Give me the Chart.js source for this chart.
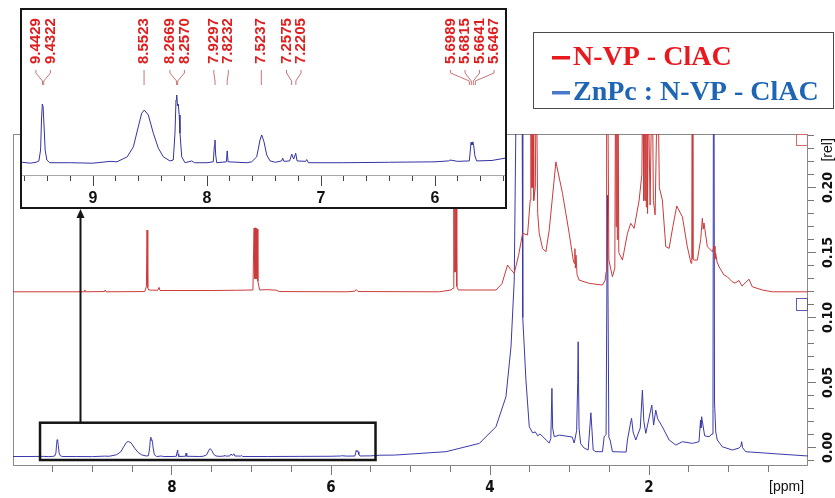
<!DOCTYPE html>
<html>
<head>
<meta charset="utf-8">
<title>1H NMR - N-VP - ClAC / ZnPc : N-VP - ClAC</title>
<script src="https://cdn.jsdelivr.net/npm/chart.js@4.4.1/dist/chart.umd.min.js"></script>
<style>
  body { margin: 0; background: #fff; }
  #wrap { position: relative; width: 835px; height: 498px; overflow: hidden; background: #fff; }
  #main { position: absolute; left: 0; top: 0; }
  #insetBox { position: absolute; left: 20px; top: 8px; width: 487px; height: 201px;
              border: 2px solid #161616; box-sizing: border-box; background: #fff; }
  #inset { display: block; }
</style>
</head>
<body>
<div id="wrap">
  <canvas id="main" width="835" height="498"></canvas>
  <div id="insetBox"><canvas id="inset" width="483" height="197"></canvas></div>
</div>
<script>
// chemical shift (ppm) and relative intensity
const redShift = [10.00, 9.10, 9.097, 9.09, 8.85, 8.84, 8.83, 8.343, 8.322, 8.314, 8.305, 8.293, 8.18, 8.163, 8.15,
  7.50, 7.20, 6.982, 6.972, 6.967, 6.960, 6.955, 6.948, 6.942, 6.935, 6.929, 6.920, 6.898, 6.80, 6.688, 6.65,
  5.80, 5.70, 5.683, 5.66, 4.637, 4.490, 4.465, 4.455, 4.448, 4.441, 4.434, 4.427, 4.418, 4.398, 4.285,
  3.925, 3.85, 3.779, 3.74, 3.695, 3.64, 3.590, 3.528, 3.494, 3.486, 3.479, 3.472, 3.465, 3.458, 3.450, 3.43,
  3.418, 3.400, 3.381, 3.339, 3.297, 3.255, 3.171, 3.088, 3.004, 2.955, 2.941, 2.932, 2.926, 2.918, 2.905,
  2.878, 2.752, 2.585, 2.551, 2.540, 2.533, 2.520, 2.505, 2.460, 2.430, 2.420, 2.413, 2.405, 2.398, 2.390,
  2.380, 2.334, 2.271, 2.229, 2.187, 2.124, 2.090, 2.075, 2.066, 2.058, 2.050, 2.042, 2.034, 2.026, 2.018,
  2.010, 1.986, 1.960, 1.945, 1.923, 1.890, 1.870, 1.832, 1.789, 1.747, 1.700, 1.651, 1.580, 1.518, 1.471,
  1.462, 1.456, 1.448, 1.433, 1.392, 1.350, 1.329, 1.318, 1.308, 1.266, 1.203, 1.180, 1.170, 1.161, 1.144,
  1.119, 1.056, 1.015, 0.952, 0.918, 0.868, 0.830, 0.742, 0.701, 0.575, 0.450, 0.00];
const redRel = [0.1198, 0.1198, 0.1212, 0.1198, 0.1200, 0.1212, 0.1198, 0.1200, 0.1240, 0.1673, 0.1230, 0.1212, 0.1210, 0.1232, 0.1208,
  0.1208, 0.1210, 0.1212, 0.1560, 0.1688, 0.1300, 0.1690, 0.1300, 0.1685, 0.1300, 0.1680, 0.1280, 0.1212, 0.1215, 0.1210, 0.1200,
  0.1198, 0.1203, 0.1215, 0.1200, 0.1198, 0.1212, 0.1225, 0.2050, 0.1350, 0.2100, 0.1350, 0.2080, 0.1240, 0.1212, 0.1212,
  0.1212, 0.1260, 0.1404, 0.1370, 0.1340, 0.1480, 0.1648, 0.1635, 0.1904, 0.30, 0.20, 0.30, 0.20, 0.30, 0.19, 0.2000,
  0.30, 0.1800, 0.1648, 0.1532, 0.1506, 0.1673, 0.2198, 0.1955, 0.1648, 0.1450, 0.1417, 0.1530, 0.1380, 0.1480, 0.1330,
  0.1288, 0.1263, 0.1250, 0.1288, 0.1350, 0.35, 0.30, 0.1442, 0.1314, 0.1380, 0.30, 0.1700, 0.30, 0.1600, 0.28,
  0.1500, 0.1442, 0.1648, 0.1725, 0.1686, 0.1904, 0.2100, 0.30, 0.19, 0.30, 0.19, 0.30, 0.185, 0.30, 0.18,
  0.28, 0.1865, 0.30, 0.1900, 0.1790, 0.30, 0.2000, 0.1904, 0.1545, 0.1532, 0.1700, 0.1858, 0.1775, 0.1545, 0.1417,
  0.1450, 0.35, 0.1450, 0.1442, 0.1442, 0.1600, 0.1763, 0.1680, 0.1727, 0.1545, 0.1506, 0.1550, 0.1450, 0.1494, 0.1427,
  0.1391, 0.1327, 0.1314, 0.1275, 0.1265, 0.1285, 0.1242, 0.1295, 0.1237, 0.1212, 0.1198, 0.1198];

const blueShift = [10.00, 9.80, 9.62, 9.55, 9.50, 9.475, 9.46, 9.452, 9.445, 9.438, 9.430, 9.42, 9.405, 9.38, 9.20, 9.00,
  8.85, 8.79, 8.70, 8.646, 8.603, 8.573, 8.550, 8.515, 8.471, 8.427, 8.383, 8.325, 8.296, 8.281, 8.272, 8.266,
  8.259, 8.252, 8.244, 8.237, 8.222, 8.193, 8.134, 8.11, 8.00, 7.945, 7.935, 7.930, 7.924, 7.915, 7.830, 7.823,
  7.815, 7.65, 7.608, 7.564, 7.535, 7.520, 7.500, 7.476, 7.447, 7.40, 7.345, 7.336, 7.325, 7.275, 7.257, 7.240,
  7.222, 7.210, 7.135, 7.125, 7.110, 6.80, 6.40, 6.00, 5.88, 5.868, 5.80, 5.699, 5.690, 5.684, 5.676, 5.668,
  5.660, 5.650, 5.635, 5.50, 5.386, 5.20, 4.553, 4.134, 3.925, 3.799, 3.736, 3.695, 3.64, 3.595, 3.588, 3.548,
  3.506, 3.465, 3.43, 3.40, 3.37, 3.343, 3.293, 3.255, 3.235, 3.221, 3.212, 3.192, 3.129, 2.966, 2.941, 2.91,
  2.897, 2.891, 2.880, 2.860, 2.816, 2.765, 2.731, 2.702, 2.668, 2.585, 2.564, 2.540, 2.523, 2.505, 2.489, 2.460,
  2.288, 2.271, 2.235, 2.219, 2.200, 2.166, 2.110, 2.083, 2.065, 2.040, 1.965, 1.942, 1.915, 1.890, 1.832, 1.747,
  1.663, 1.580, 1.455, 1.371, 1.352, 1.347, 1.338, 1.30, 1.245, 1.207, 1.195, 1.186, 1.176, 1.160, 1.141, 1.078,
  0.952, 0.868, 0.845, 0.834, 0.824, 0.784, 0.366, 0.00];
const blueRel = [-0.0069, -0.0069, -0.0068, -0.0070, -0.0068, -0.0065, -0.0041, 0.0025, 0.0060, 0.0055, 0.0014, -0.0041, -0.0063, -0.0069, -0.0069, -0.0070,
  -0.0066, -0.0067, -0.0056, -0.0034, 0.0010, 0.0040, 0.0047, 0.0036, -0.0004, -0.0037, -0.0056, -0.0065, -0.0063, -0.0004, 0.0069, 0.0080,
  0.0056, 0.0060, 0.0036, -0.0004, -0.0056, -0.0069, -0.0065, -0.0069, -0.0069, -0.0067, -0.0030, -0.0019, -0.0052, -0.0069, -0.0067, -0.0043,
  -0.0067, -0.0069, -0.0067, -0.0056, -0.0019, -0.0008, -0.0023, -0.0052, -0.0065, -0.0068, -0.0065, -0.0059, -0.0066, -0.0065, -0.0050, -0.0061,
  -0.0048, -0.0065, -0.0066, -0.0062, -0.0069, -0.0069, -0.0068, -0.0067, -0.0065, -0.0063, -0.0066, -0.0065, -0.0041, -0.0024, -0.0030, -0.0023,
  -0.0032, -0.0054, -0.0065, -0.0064, -0.0059, -0.0058, -0.0032, 0.0032, 0.0160, 0.0391, 0.0775, 0.1288, 0.45, 0.25, 0.10, 0.0519,
  0.0160, 0.0114, 0.0120, 0.0090, 0.0105, 0.0088, 0.0058, 0.0035, 0.0070, 0.0455, 0.0150, 0.0083, 0.0096, 0.0081, 0.0035, 0.0130,
  0.0500, 0.0814, 0.0150, 0.0030, -0.0004, -0.0019, 0.0268, -0.0019, -0.0032, -0.0032, 0.0083, 0.0100, 0.194, 0.0080, 0.0058, -0.0032,
  -0.0035, 0.0058, 0.0180, 0.0225, 0.0120, 0.0058, 0.0150, 0.0442, 0.0200, 0.0109, 0.0327, 0.0173, 0.0288, 0.0220, 0.0160, 0.0058,
  0.0019, 0.0045, 0.0032, 0.0045, 0.0210, 0.0150, 0.0237, 0.0090, 0.0083, 0.0104, 0.0300, 0.45, 0.0350, 0.0120, 0.0058, 0.0006,
  -0.0019, -0.0004, 0.0010, 0.0045, 0.0000, -0.0032, -0.0050, -0.0065];

// axis ticks
const ppmMajor = [8, 6, 4, 2];
const relMajor = [0.00, 0.05, 0.10, 0.15, 0.20];
const insetMajor = [9, 8, 7, 6];
const peakLabels = ['9.4429', '9.4322', '8.5523', '8.2669', '8.2570', '7.9297', '7.8232', '7.5237',
  '7.2575', '7.2205', '5.6989', '5.6815', '5.6641', '5.6467'];

// zoomed region shown in the inset, and ranges
const zoomPpm = [9.66, 5.44];
const zoomRel = [-0.0096, 0.0191];
const insetPpm = [9.623, 5.386];
const insetRel = [-0.0096, 0.0267];
const arrowPpm = 9.157;

const narrow = '"Liberation Sans Narrow", "DejaVu Sans Condensed", "Liberation Sans", sans-serif';
const sans = '"Liberation Sans", Arial, sans-serif';

function pts(xs, ys) {
  return xs.map((x, i) => ({ x: x, y: ys[i] }));
}
function stepTicks(from, to, step) {
  const out = [];
  for (let v = from; v <= to + 1e-9; v += step) out.push(Math.round(v * 1000) / 1000);
  return out;
}

const framePlugin = {
  id: 'frame',
  beforeDatasetsDraw(chart) {
    const a = chart.chartArea, ctx = chart.ctx;
    ctx.save();
    ctx.strokeStyle = '#8a8a8a';
    ctx.lineWidth = 1;
    ctx.strokeRect(a.left + 0.5, a.top + 0.5, a.right - a.left - 1, a.bottom - a.top - 1);
    ctx.restore();
  },
  afterDatasetsDraw(chart) {
    const a = chart.chartArea, ctx = chart.ctx;
    const xs = chart.scales.x, ys = chart.scales.y;
    ctx.save();
    // spectrum reference markers at the right edge
    ctx.lineWidth = 1;
    ctx.strokeStyle = '#cf6a6a';
    ctx.strokeRect(a.right - 11.5, a.top + 0.5, 11, 11);
    ctx.strokeStyle = '#5c5cb4';
    const by = ys.getPixelForValue(0.115);
    ctx.strokeRect(a.right - 11.5, Math.round(by) + 0.5, 11, 12);

    // zoom box
    const x1 = xs.getPixelForValue(zoomPpm[0]), x2 = xs.getPixelForValue(zoomPpm[1]);
    const y1 = ys.getPixelForValue(zoomRel[1]), y2 = ys.getPixelForValue(zoomRel[0]);
    ctx.strokeStyle = '#151515';
    ctx.lineWidth = 2.5;
    ctx.strokeRect(x1, y1, x2 - x1, y2 - y1);

    // arrow up to the inset
    const box = document.getElementById('insetBox');
    const tipY = box.offsetTop + box.offsetHeight;
    const ax = Math.round(xs.getPixelForValue(arrowPpm)) + 0.5;
    ctx.lineWidth = 2;
    ctx.beginPath();
    ctx.moveTo(ax, y1);
    ctx.lineTo(ax, tipY + 6);
    ctx.stroke();
    ctx.fillStyle = '#151515';
    ctx.beginPath();
    ctx.moveTo(ax, tipY);
    ctx.lineTo(ax - 4, tipY + 9);
    ctx.lineTo(ax + 4, tipY + 9);
    ctx.closePath();
    ctx.fill();
    ctx.restore();
  },
  afterDraw(chart) {
    const ctx = chart.ctx;
    const ds = chart.data.datasets;
    ctx.save();
    ctx.fillStyle = '#fff';
    ctx.fillRect(533, 32, 301, 77);
    ctx.strokeStyle = '#4a4a4a';
    ctx.lineWidth = 1;
    ctx.strokeRect(533.5, 32.5, 300, 76);
    const rows = [
      { text: ds[0].label, mark: '#e8191f', color: '#e8191f', y: 65 },
      { text: ds[1].label, mark: '#4a78c8', color: '#1e66b4', y: 100 }
    ];
    ctx.font = 'bold 28px "Liberation Serif", "Times New Roman", serif';
    ctx.textBaseline = 'alphabetic';
    ctx.textAlign = 'left';
    rows.forEach(r => {
      ctx.fillStyle = r.mark;
      ctx.fillRect(552, r.y - 9, 18, 3.5);
      ctx.fillStyle = r.color;
      ctx.fillText(r.text, 573, r.y);
    });
    ctx.restore();
  }
};

const mainChart = new Chart(document.getElementById('main'), {
  type: 'line',
  data: {
    datasets: [
      { label: 'N-VP - ClAC', data: pts(redShift, redRel), borderColor: '#cc3a3a', borderWidth: 1,
        pointRadius: 0, tension: 0 },
      { label: 'ZnPc : N-VP - ClAC', data: pts(blueShift, blueRel), borderColor: '#3939ac', borderWidth: 1,
        pointRadius: 0, tension: 0 }
    ]
  },
  options: {
    responsive: false,
    animation: false,
    parsing: false,
    layout: { padding: { left: 13, top: 134, right: 0, bottom: 0 } },
    plugins: { legend: { display: false }, tooltip: { enabled: false } },
    scales: {
      x: {
        type: 'linear', reverse: true, min: 0, max: 10, position: 'bottom',
        grid: { drawOnChartArea: false, tickLength: 6, color: '#777' },
        border: { display: false },
        ticks: { display: false },
        afterBuildTicks: s => { s.ticks = stepTicks(0.5, 9.5, 0.5).map(v => ({ value: v })); },
        afterFit: s => { s.height = 0; }
      },
      x2: {
        type: 'linear', reverse: true, min: 0, max: 10, position: 'bottom',
        grid: { drawOnChartArea: false, tickLength: 9,
                tickColor: c => (c.tick && c.tick.value < 1 ? 'rgba(0,0,0,0)' : '#777') },
        border: { display: false },
        ticks: {
          autoSkip: false, maxRotation: 0, padding: 4, color: '#111',
          font: c => (c.tick && c.tick.value < 1 ? { family: sans, size: 14 } : { family: narrow, size: 15, weight: 'bold' }),
          callback: v => (v < 1 ? '[ppm]' : String(v))
        },
        afterBuildTicks: s => { s.ticks = ppmMajor.concat([0.27]).map(v => ({ value: v })); },
        afterFit: s => { s.height = 32; }
      },
      y: {
        type: 'linear', min: -0.0142, max: 0.2412, position: 'right',
        grid: { drawOnChartArea: false, tickLength: 6, color: '#777' },
        border: { display: false },
        ticks: { display: false },
        afterBuildTicks: s => { s.ticks = stepTicks(-0.01, 0.24, 0.01).map(v => ({ value: v })); },
        afterFit: s => { s.width = 0; }
      },
      y2: {
        type: 'linear', min: -0.0142, max: 0.2412, position: 'right',
        grid: { drawOnChartArea: false, tickLength: 8,
                tickColor: c => (c.tick && c.tick.value > 0.22 ? 'rgba(0,0,0,0)' : '#777') },
        border: { display: false },
        ticks: {
          autoSkip: false, minRotation: 90, maxRotation: 90, crossAlign: 'center', padding: -3, color: '#111',
          font: c => (c.tick && c.tick.value > 0.22 ? { family: sans, size: 14 } : { family: narrow, size: 14, weight: 'bold' }),
          callback: v => (v > 0.22 ? '[rel]' : v.toFixed(2))
        },
        afterBuildTicks: s => { s.ticks = relMajor.concat([0.229]).map(v => ({ value: v })); },
        afterFit: s => { s.width = 27; }
      }
    }
  },
  plugins: [framePlugin]
});

// spreads label positions so neighbouring labels keep a minimum gap
function spread(xs, gap) {
  let groups = xs.map(x => ({ start: x, n: 1, sum: x }));
  let merged = true;
  while (merged) {
    merged = false;
    for (let i = 0; i < groups.length - 1; i++) {
      const a = groups[i], b = groups[i + 1];
      if (b.start - (a.start + (a.n - 1) * gap) < gap) {
        const n = a.n + b.n, sum = a.sum + b.sum;
        groups.splice(i, 2, { start: sum / n - (n - 1) * gap / 2, n: n, sum: sum });
        merged = true;
        break;
      }
    }
  }
  const out = [];
  groups.forEach(g => { for (let k = 0; k < g.n; k++) out.push(g.start + k * gap); });
  return out;
}

const peakLabelPlugin = {
  id: 'peakLabels',
  afterDraw(chart) {
    const ctx = chart.ctx, xs = chart.scales.x;
    const px = peakLabels.map(t => xs.getPixelForValue(parseFloat(t)));
    const lx = spread(px, 14.5);
    ctx.save();
    ctx.strokeStyle = '#c87474';
    ctx.lineWidth = 1;
    px.forEach((p, i) => {
      ctx.beginPath();
      ctx.moveTo(lx[i], 60);
      ctx.lineTo(lx[i], 63);
      ctx.lineTo(p, 71);
      ctx.lineTo(p, 75);
      ctx.stroke();
    });
    ctx.fillStyle = '#e01e1e';
    ctx.font = 'bold 15px ' + sans;
    ctx.textAlign = 'left';
    ctx.textBaseline = 'middle';
    peakLabels.forEach((t, i) => {
      ctx.save();
      ctx.translate(lx[i], 54);
      ctx.rotate(-Math.PI / 2);
      ctx.fillText(t, 0, 0);
      ctx.restore();
    });
    ctx.restore();
  }
};

const insetChart = new Chart(document.getElementById('inset'), {
  type: 'line',
  data: {
    datasets: [
      { label: 'ZnPc : N-VP - ClAC', data: pts(blueShift, blueRel), borderColor: '#3333a2', borderWidth: 1,
        pointRadius: 0, tension: 0 }
    ]
  },
  options: {
    responsive: false,
    animation: false,
    parsing: false,
    layout: { padding: 0 },
    plugins: { legend: { display: false }, tooltip: { enabled: false } },
    scales: {
      x: {
        type: 'linear', reverse: true, min: insetPpm[1], max: insetPpm[0], position: 'bottom',
        grid: { drawOnChartArea: false, tickLength: 6, color: '#444' },
        border: { display: true, color: '#a8a8a8' },
        ticks: { display: false },
        afterBuildTicks: s => { s.ticks = stepTicks(5.4, 9.6, 0.2).map(v => ({ value: v })); },
        afterFit: s => { s.height = 0; }
      },
      x2: {
        type: 'linear', reverse: true, min: insetPpm[1], max: insetPpm[0], position: 'bottom',
        grid: { drawOnChartArea: false, tickLength: 11, color: '#444' },
        border: { display: false },
        ticks: { autoSkip: false, maxRotation: 0, padding: 3, color: '#111',
                 font: { family: sans, size: 16, weight: 'bold' } },
        afterBuildTicks: s => { s.ticks = insetMajor.map(v => ({ value: v })); },
        afterFit: s => { s.height = 32; }
      },
      y: { display: false, min: insetRel[0], max: insetRel[1] }
    }
  },
  plugins: [peakLabelPlugin]
});
</script>
</body>
</html>
